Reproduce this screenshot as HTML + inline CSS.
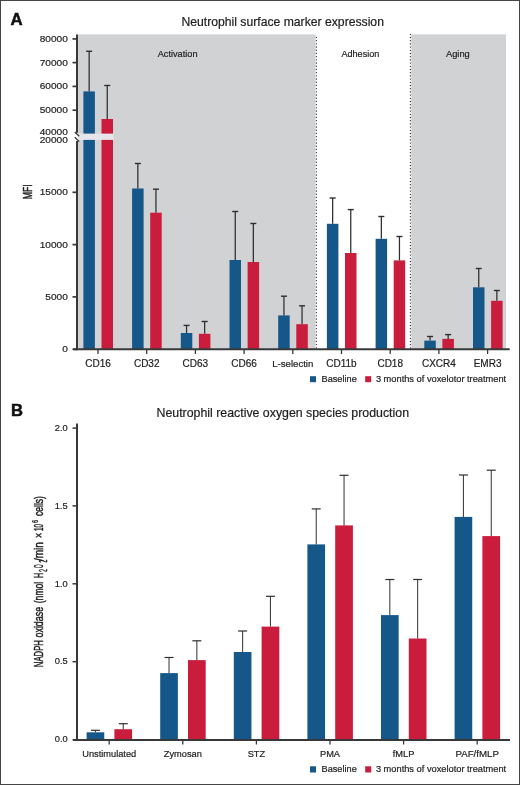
<!DOCTYPE html>
<html><head><meta charset="utf-8"><style>
html,body{margin:0;padding:0;background:#fff;width:520px;height:785px;overflow:hidden}
svg text{font-family:"Liberation Sans",sans-serif;stroke:#1e1e1e;stroke-width:0.2px}
svg{will-change:transform}
</style></head><body>
<svg width="520" height="785" viewBox="0 0 520 785" style="display:block">
<rect x="0" y="0" width="520" height="785" fill="#fff"/>
<text x="10.5" y="24.8" font-size="16.8" font-weight="bold" fill="#111" style="stroke:#111;stroke-width:0.5px">A</text>
<text x="181.4" y="26.4" font-size="12.2" fill="#1e1e1e">Neutrophil surface marker expression</text>
<rect x="78" y="34.4" width="237.6" height="315" fill="#d1d2d4"/>
<rect x="411.2" y="34.4" width="94.8" height="315" fill="#d1d2d4"/>
<line x1="316.4" y1="37.4" x2="316.4" y2="349" stroke="#2a2a2a" stroke-width="1.3" stroke-linecap="round" stroke-dasharray="0 3.2"/>
<line x1="410.4" y1="34.3" x2="410.4" y2="349" stroke="#2a2a2a" stroke-width="1.3" stroke-linecap="round" stroke-dasharray="0 3.2"/>
<text x="157.7" y="56.9" font-size="9.2" fill="#1e1e1e">Activation</text>
<text x="341.4" y="57.2" font-size="9.1" fill="#1e1e1e">Adhesion</text>
<text x="446" y="57.3" font-size="9.3" fill="#1e1e1e">Aging</text>
<rect x="83.40" y="91.4" width="11.50" height="257.80" fill="#16578a"/>
<rect x="101.50" y="119" width="11.50" height="230.20" fill="#ca1c3d"/>
<line x1="89.15" y1="91.4" x2="89.15" y2="51.3" stroke="#2e2e2e" stroke-width="1.25"/>
<line x1="86.15" y1="51.3" x2="92.15" y2="51.3" stroke="#2e2e2e" stroke-width="1.4"/>
<line x1="107.25" y1="119" x2="107.25" y2="85.5" stroke="#2e2e2e" stroke-width="1.25"/>
<line x1="104.25" y1="85.5" x2="110.25" y2="85.5" stroke="#2e2e2e" stroke-width="1.4"/>
<line x1="98.00" y1="349" x2="98.00" y2="354" stroke="#383838" stroke-width="1.3"/>
<text x="98.00" y="367" font-size="10" fill="#1e1e1e" text-anchor="middle">CD16</text>
<rect x="132.10" y="188.5" width="11.50" height="160.70" fill="#16578a"/>
<rect x="150.20" y="212.7" width="11.50" height="136.50" fill="#ca1c3d"/>
<line x1="137.85" y1="188.5" x2="137.85" y2="163.5" stroke="#2e2e2e" stroke-width="1.25"/>
<line x1="134.85" y1="163.5" x2="140.85" y2="163.5" stroke="#2e2e2e" stroke-width="1.4"/>
<line x1="155.95" y1="212.7" x2="155.95" y2="189.2" stroke="#2e2e2e" stroke-width="1.25"/>
<line x1="152.95" y1="189.2" x2="158.95" y2="189.2" stroke="#2e2e2e" stroke-width="1.4"/>
<line x1="146.70" y1="349" x2="146.70" y2="354" stroke="#383838" stroke-width="1.3"/>
<text x="146.70" y="367" font-size="10" fill="#1e1e1e" text-anchor="middle">CD32</text>
<rect x="180.80" y="333" width="11.50" height="16.20" fill="#16578a"/>
<rect x="198.90" y="333.8" width="11.50" height="15.40" fill="#ca1c3d"/>
<line x1="186.55" y1="333" x2="186.55" y2="325.4" stroke="#2e2e2e" stroke-width="1.25"/>
<line x1="183.55" y1="325.4" x2="189.55" y2="325.4" stroke="#2e2e2e" stroke-width="1.4"/>
<line x1="204.65" y1="333.8" x2="204.65" y2="321.5" stroke="#2e2e2e" stroke-width="1.25"/>
<line x1="201.65" y1="321.5" x2="207.65" y2="321.5" stroke="#2e2e2e" stroke-width="1.4"/>
<line x1="195.40" y1="349" x2="195.40" y2="354" stroke="#383838" stroke-width="1.3"/>
<text x="195.40" y="367" font-size="10" fill="#1e1e1e" text-anchor="middle">CD63</text>
<rect x="229.50" y="260" width="11.50" height="89.20" fill="#16578a"/>
<rect x="247.60" y="262" width="11.50" height="87.20" fill="#ca1c3d"/>
<line x1="235.25" y1="260" x2="235.25" y2="211.5" stroke="#2e2e2e" stroke-width="1.25"/>
<line x1="232.25" y1="211.5" x2="238.25" y2="211.5" stroke="#2e2e2e" stroke-width="1.4"/>
<line x1="253.35" y1="262" x2="253.35" y2="223.5" stroke="#2e2e2e" stroke-width="1.25"/>
<line x1="250.35" y1="223.5" x2="256.35" y2="223.5" stroke="#2e2e2e" stroke-width="1.4"/>
<line x1="244.10" y1="349" x2="244.10" y2="354" stroke="#383838" stroke-width="1.3"/>
<text x="244.10" y="367" font-size="10" fill="#1e1e1e" text-anchor="middle">CD66</text>
<rect x="278.20" y="315.4" width="11.50" height="33.80" fill="#16578a"/>
<rect x="296.30" y="324.2" width="11.50" height="25.00" fill="#ca1c3d"/>
<line x1="283.95" y1="315.4" x2="283.95" y2="296.2" stroke="#2e2e2e" stroke-width="1.25"/>
<line x1="280.95" y1="296.2" x2="286.95" y2="296.2" stroke="#2e2e2e" stroke-width="1.4"/>
<line x1="302.05" y1="324.2" x2="302.05" y2="305.8" stroke="#2e2e2e" stroke-width="1.25"/>
<line x1="299.05" y1="305.8" x2="305.05" y2="305.8" stroke="#2e2e2e" stroke-width="1.4"/>
<line x1="292.80" y1="349" x2="292.80" y2="354" stroke="#383838" stroke-width="1.3"/>
<text x="292.80" y="367" font-size="9.6" fill="#1e1e1e" text-anchor="middle">L-selectin</text>
<rect x="326.90" y="223.8" width="11.50" height="125.40" fill="#16578a"/>
<rect x="345.00" y="253" width="11.50" height="96.20" fill="#ca1c3d"/>
<line x1="332.65" y1="223.8" x2="332.65" y2="198" stroke="#2e2e2e" stroke-width="1.25"/>
<line x1="329.65" y1="198" x2="335.65" y2="198" stroke="#2e2e2e" stroke-width="1.4"/>
<line x1="350.75" y1="253" x2="350.75" y2="209.6" stroke="#2e2e2e" stroke-width="1.25"/>
<line x1="347.75" y1="209.6" x2="353.75" y2="209.6" stroke="#2e2e2e" stroke-width="1.4"/>
<line x1="341.50" y1="349" x2="341.50" y2="354" stroke="#383838" stroke-width="1.3"/>
<text x="341.50" y="367" font-size="10" fill="#1e1e1e" text-anchor="middle">CD11b</text>
<rect x="375.60" y="238.8" width="11.50" height="110.40" fill="#16578a"/>
<rect x="393.70" y="260.4" width="11.50" height="88.80" fill="#ca1c3d"/>
<line x1="381.35" y1="238.8" x2="381.35" y2="216.5" stroke="#2e2e2e" stroke-width="1.25"/>
<line x1="378.35" y1="216.5" x2="384.35" y2="216.5" stroke="#2e2e2e" stroke-width="1.4"/>
<line x1="399.45" y1="260.4" x2="399.45" y2="236.5" stroke="#2e2e2e" stroke-width="1.25"/>
<line x1="396.45" y1="236.5" x2="402.45" y2="236.5" stroke="#2e2e2e" stroke-width="1.4"/>
<line x1="390.20" y1="349" x2="390.20" y2="354" stroke="#383838" stroke-width="1.3"/>
<text x="390.20" y="367" font-size="10" fill="#1e1e1e" text-anchor="middle">CD18</text>
<rect x="424.30" y="340.6" width="11.50" height="8.60" fill="#16578a"/>
<rect x="442.40" y="338.9" width="11.50" height="10.30" fill="#ca1c3d"/>
<line x1="430.05" y1="340.6" x2="430.05" y2="336.5" stroke="#2e2e2e" stroke-width="1.25"/>
<line x1="427.05" y1="336.5" x2="433.05" y2="336.5" stroke="#2e2e2e" stroke-width="1.4"/>
<line x1="448.15" y1="338.9" x2="448.15" y2="334.6" stroke="#2e2e2e" stroke-width="1.25"/>
<line x1="445.15" y1="334.6" x2="451.15" y2="334.6" stroke="#2e2e2e" stroke-width="1.4"/>
<line x1="438.90" y1="349" x2="438.90" y2="354" stroke="#383838" stroke-width="1.3"/>
<text x="438.90" y="367" font-size="10" fill="#1e1e1e" text-anchor="middle">CXCR4</text>
<rect x="473.00" y="287.3" width="11.50" height="61.90" fill="#16578a"/>
<rect x="491.10" y="300.8" width="11.50" height="48.40" fill="#ca1c3d"/>
<line x1="478.75" y1="287.3" x2="478.75" y2="268.5" stroke="#2e2e2e" stroke-width="1.25"/>
<line x1="475.75" y1="268.5" x2="481.75" y2="268.5" stroke="#2e2e2e" stroke-width="1.4"/>
<line x1="496.85" y1="300.8" x2="496.85" y2="290.5" stroke="#2e2e2e" stroke-width="1.25"/>
<line x1="493.85" y1="290.5" x2="499.85" y2="290.5" stroke="#2e2e2e" stroke-width="1.4"/>
<line x1="487.60" y1="349" x2="487.60" y2="354" stroke="#383838" stroke-width="1.3"/>
<text x="487.60" y="367" font-size="10" fill="#1e1e1e" text-anchor="middle">EMR3</text>
<rect x="78" y="133.6" width="35.50" height="6.3" fill="#e6e6ea"/>
<line x1="77" y1="34.4" x2="77" y2="132.8" stroke="#383838" stroke-width="2"/>
<line x1="77" y1="141" x2="77" y2="350.2" stroke="#383838" stroke-width="2"/>
<line x1="74.8" y1="132" x2="79.2" y2="136.3" stroke="#383838" stroke-width="1.3"/>
<line x1="74.8" y1="137.3" x2="79.2" y2="141.6" stroke="#383838" stroke-width="1.3"/>
<line x1="73" y1="349.3" x2="509.7" y2="349.3" stroke="#383838" stroke-width="2"/>
<line x1="72.5" y1="38.9" x2="77" y2="38.9" stroke="#383838" stroke-width="1.7"/>
<text transform="translate(67.8,41.80) scale(1,0.88)" font-size="10.1" fill="#1e1e1e" text-anchor="end">80000</text>
<line x1="72.5" y1="62.6" x2="77" y2="62.6" stroke="#383838" stroke-width="1.7"/>
<text transform="translate(67.8,65.50) scale(1,0.88)" font-size="10.1" fill="#1e1e1e" text-anchor="end">70000</text>
<line x1="72.5" y1="86.4" x2="77" y2="86.4" stroke="#383838" stroke-width="1.7"/>
<text transform="translate(67.8,89.30) scale(1,0.88)" font-size="10.1" fill="#1e1e1e" text-anchor="end">60000</text>
<line x1="72.5" y1="110.2" x2="77" y2="110.2" stroke="#383838" stroke-width="1.7"/>
<text transform="translate(67.8,113.10) scale(1,0.88)" font-size="10.1" fill="#1e1e1e" text-anchor="end">50000</text>
<line x1="72.5" y1="192.3" x2="77" y2="192.3" stroke="#383838" stroke-width="1.7"/>
<text transform="translate(67.8,195.20) scale(1,0.88)" font-size="10.1" fill="#1e1e1e" text-anchor="end">15000</text>
<line x1="72.5" y1="244.6" x2="77" y2="244.6" stroke="#383838" stroke-width="1.7"/>
<text transform="translate(67.8,247.50) scale(1,0.88)" font-size="10.1" fill="#1e1e1e" text-anchor="end">10000</text>
<line x1="72.5" y1="296.9" x2="77" y2="296.9" stroke="#383838" stroke-width="1.7"/>
<text transform="translate(67.8,299.80) scale(1,0.88)" font-size="10.1" fill="#1e1e1e" text-anchor="end">5000</text>
<line x1="72.5" y1="349.3" x2="77" y2="349.3" stroke="#383838" stroke-width="1.7"/>
<text transform="translate(67.8,352.20) scale(1,0.88)" font-size="10.1" fill="#1e1e1e" text-anchor="end">0</text>
<text transform="translate(67.8,134.9) scale(1,0.88)" font-size="10.1" fill="#1e1e1e" text-anchor="end">40000</text>
<text transform="translate(67.8,142.9) scale(1,0.88)" font-size="10.1" fill="#1e1e1e" text-anchor="end">20000</text>
<text transform="translate(32.00,199.31) rotate(-90) scale(0.7216,1)" font-size="12.0" fill="#1e1e1e" style="stroke-width:0.45px">MFI</text>
<rect x="310" y="376.2" width="6" height="6" fill="#16578a"/>
<text x="321.5" y="381.9" font-size="9.2" fill="#1e1e1e">Baseline</text>
<rect x="365.2" y="376.2" width="6" height="6" fill="#ca1c3d"/>
<text x="375.9" y="381.9" font-size="9.27" fill="#1e1e1e">3 months of voxelotor treatment</text>
<text x="11" y="415.6" font-size="16.6" font-weight="bold" fill="#111" style="stroke:#111;stroke-width:0.5px">B</text>
<text x="156.5" y="416.8" font-size="12.35" fill="#1e1e1e">Neutrophil reactive oxygen species production</text>
<rect x="86.60" y="732.3" width="17.65" height="7.70" fill="#16578a"/>
<rect x="114.40" y="729.2" width="17.70" height="10.80" fill="#ca1c3d"/>
<line x1="95.42" y1="732.3" x2="95.42" y2="730.3" stroke="#3a3a3a" stroke-width="1.05"/>
<line x1="90.92" y1="730.3" x2="99.92" y2="730.3" stroke="#2e2e2e" stroke-width="1.2"/>
<line x1="123.25" y1="729.2" x2="123.25" y2="723.7" stroke="#3a3a3a" stroke-width="1.05"/>
<line x1="118.75" y1="723.7" x2="127.75" y2="723.7" stroke="#2e2e2e" stroke-width="1.2"/>
<line x1="109.20" y1="740" x2="109.20" y2="744.5" stroke="#383838" stroke-width="1.3"/>
<text x="109.20" y="757.1" font-size="9.25" fill="#1e1e1e" text-anchor="middle">Unstimulated</text>
<rect x="160.20" y="673.1" width="17.65" height="66.90" fill="#16578a"/>
<rect x="188.00" y="660.1" width="17.70" height="79.90" fill="#ca1c3d"/>
<line x1="169.03" y1="673.1" x2="169.03" y2="657.5" stroke="#3a3a3a" stroke-width="1.05"/>
<line x1="164.53" y1="657.5" x2="173.53" y2="657.5" stroke="#2e2e2e" stroke-width="1.2"/>
<line x1="196.85" y1="660.1" x2="196.85" y2="640.8" stroke="#3a3a3a" stroke-width="1.05"/>
<line x1="192.35" y1="640.8" x2="201.35" y2="640.8" stroke="#2e2e2e" stroke-width="1.2"/>
<line x1="182.80" y1="740" x2="182.80" y2="744.5" stroke="#383838" stroke-width="1.3"/>
<text x="182.80" y="757.1" font-size="9.25" fill="#1e1e1e" text-anchor="middle">Zymosan</text>
<rect x="233.80" y="652" width="17.65" height="88.00" fill="#16578a"/>
<rect x="261.60" y="626.6" width="17.70" height="113.40" fill="#ca1c3d"/>
<line x1="242.62" y1="652" x2="242.62" y2="631" stroke="#3a3a3a" stroke-width="1.05"/>
<line x1="238.12" y1="631" x2="247.12" y2="631" stroke="#2e2e2e" stroke-width="1.2"/>
<line x1="270.45" y1="626.6" x2="270.45" y2="596.3" stroke="#3a3a3a" stroke-width="1.05"/>
<line x1="265.95" y1="596.3" x2="274.95" y2="596.3" stroke="#2e2e2e" stroke-width="1.2"/>
<line x1="256.40" y1="740" x2="256.40" y2="744.5" stroke="#383838" stroke-width="1.3"/>
<text x="256.40" y="757.1" font-size="9.25" fill="#1e1e1e" text-anchor="middle">STZ</text>
<rect x="307.40" y="544.4" width="17.65" height="195.60" fill="#16578a"/>
<rect x="335.20" y="525.4" width="17.70" height="214.60" fill="#ca1c3d"/>
<line x1="316.23" y1="544.4" x2="316.23" y2="508.9" stroke="#3a3a3a" stroke-width="1.05"/>
<line x1="311.73" y1="508.9" x2="320.73" y2="508.9" stroke="#2e2e2e" stroke-width="1.2"/>
<line x1="344.05" y1="525.4" x2="344.05" y2="475.3" stroke="#3a3a3a" stroke-width="1.05"/>
<line x1="339.55" y1="475.3" x2="348.55" y2="475.3" stroke="#2e2e2e" stroke-width="1.2"/>
<line x1="330.00" y1="740" x2="330.00" y2="744.5" stroke="#383838" stroke-width="1.3"/>
<text x="330.00" y="757.1" font-size="9.25" fill="#1e1e1e" text-anchor="middle">PMA</text>
<rect x="381.00" y="615.1" width="17.65" height="124.90" fill="#16578a"/>
<rect x="408.80" y="638.5" width="17.70" height="101.50" fill="#ca1c3d"/>
<line x1="389.82" y1="615.1" x2="389.82" y2="579.5" stroke="#3a3a3a" stroke-width="1.05"/>
<line x1="385.32" y1="579.5" x2="394.32" y2="579.5" stroke="#2e2e2e" stroke-width="1.2"/>
<line x1="417.65" y1="638.5" x2="417.65" y2="579.5" stroke="#3a3a3a" stroke-width="1.05"/>
<line x1="413.15" y1="579.5" x2="422.15" y2="579.5" stroke="#2e2e2e" stroke-width="1.2"/>
<line x1="403.60" y1="740" x2="403.60" y2="744.5" stroke="#383838" stroke-width="1.3"/>
<text x="403.60" y="757.1" font-size="9.25" fill="#1e1e1e" text-anchor="middle">fMLP</text>
<rect x="454.60" y="516.9" width="17.65" height="223.10" fill="#16578a"/>
<rect x="482.40" y="536.1" width="17.70" height="203.90" fill="#ca1c3d"/>
<line x1="463.42" y1="516.9" x2="463.42" y2="475" stroke="#3a3a3a" stroke-width="1.05"/>
<line x1="458.92" y1="475" x2="467.92" y2="475" stroke="#2e2e2e" stroke-width="1.2"/>
<line x1="491.25" y1="536.1" x2="491.25" y2="470.2" stroke="#3a3a3a" stroke-width="1.05"/>
<line x1="486.75" y1="470.2" x2="495.75" y2="470.2" stroke="#2e2e2e" stroke-width="1.2"/>
<line x1="477.20" y1="740" x2="477.20" y2="744.5" stroke="#383838" stroke-width="1.3"/>
<text x="477.20" y="757.1" font-size="9.7" fill="#1e1e1e" text-anchor="middle">PAF/fMLP</text>
<line x1="77" y1="423.6" x2="77" y2="741" stroke="#383838" stroke-width="2"/>
<line x1="73" y1="740" x2="510" y2="740" stroke="#383838" stroke-width="2"/>
<line x1="72.5" y1="428.1" x2="77" y2="428.1" stroke="#383838" stroke-width="1.5"/>
<text x="67.7" y="430.80" font-size="9.3" fill="#1e1e1e" text-anchor="end">2.0</text>
<line x1="72.5" y1="505.9" x2="77" y2="505.9" stroke="#383838" stroke-width="1.5"/>
<text x="67.7" y="508.60" font-size="9.3" fill="#1e1e1e" text-anchor="end">1.5</text>
<line x1="72.5" y1="583.8" x2="77" y2="583.8" stroke="#383838" stroke-width="1.5"/>
<text x="67.7" y="586.50" font-size="9.3" fill="#1e1e1e" text-anchor="end">1.0</text>
<line x1="72.5" y1="661.7" x2="77" y2="661.7" stroke="#383838" stroke-width="1.5"/>
<text x="67.7" y="664.40" font-size="9.3" fill="#1e1e1e" text-anchor="end">0.5</text>
<line x1="72.5" y1="739.7" x2="77" y2="739.7" stroke="#383838" stroke-width="1.5"/>
<text x="67.7" y="742.40" font-size="9.3" fill="#1e1e1e" text-anchor="end">0.0</text>
<text transform="translate(43.00,667.14) rotate(-90) scale(0.6341,1)" font-size="12.2" fill="#1e1e1e" style="stroke-width:0.45px">NADPH</text>
<text transform="translate(43.00,637.48) rotate(-90) scale(0.7294,1)" font-size="12.2" fill="#1e1e1e" style="stroke-width:0.45px">oxidase</text>
<text transform="translate(43.00,603.24) rotate(-90) scale(0.7055,1)" font-size="12.2" fill="#1e1e1e" style="stroke-width:0.45px">(nmol</text>
<text transform="translate(43.00,578.09) rotate(-90) scale(0.5881,1)" font-size="12.2" fill="#1e1e1e" style="stroke-width:0.45px">H</text>
<text transform="translate(46.60,571.73) rotate(-90) scale(0.4196,1)" font-size="11.0" fill="#1e1e1e" style="stroke-width:0.45px">2</text>
<text transform="translate(43.00,568.14) rotate(-90) scale(0.4203,1)" font-size="12.2" fill="#1e1e1e" style="stroke-width:0.45px">O</text>
<text transform="translate(46.60,562.55) rotate(-90) scale(0.4595,1)" font-size="11.0" fill="#1e1e1e" style="stroke-width:0.45px">2</text>
<text transform="translate(43.00,561.10) rotate(-90) scale(0.8264,1)" font-size="12.2" fill="#1e1e1e" style="stroke-width:0.45px">/min</text>
<text transform="translate(43.00,537.93) rotate(-90) scale(0.7368,1)" font-size="12.2" fill="#1e1e1e" style="stroke-width:0.45px">×</text>
<text transform="translate(43.00,531.07) rotate(-90) scale(0.5177,1)" font-size="12.2" fill="#1e1e1e" style="stroke-width:0.45px">10</text>
<text transform="translate(38.30,522.64) rotate(-90) scale(0.5285,1)" font-size="9.0" fill="#1e1e1e" style="stroke-width:0.45px">6</text>
<text transform="translate(43.00,516.06) rotate(-90) scale(0.7021,1)" font-size="12.2" fill="#1e1e1e" style="stroke-width:0.45px">cells)</text>
<rect x="310" y="766.3" width="6" height="6.2" fill="#16578a"/>
<text x="321.5" y="772.2" font-size="9.2" fill="#1e1e1e">Baseline</text>
<rect x="365.2" y="766.3" width="6" height="6.2" fill="#ca1c3d"/>
<text x="375.9" y="772.2" font-size="9.27" fill="#1e1e1e">3 months of voxelotor treatment</text>
<rect x="0.5" y="0.5" width="519" height="784" fill="none" stroke="#454545" stroke-width="1"/>
</svg>
</body></html>
